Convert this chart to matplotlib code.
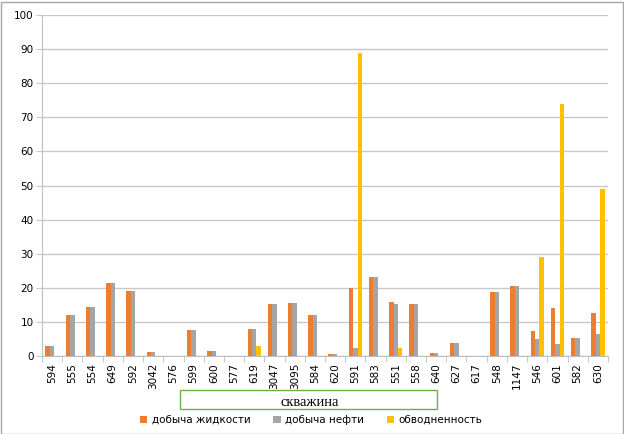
import numpy as np
import matplotlib.pyplot as plt
from matplotlib.patches import Rectangle

wells = ['594', '555', '554', '649', '592', '3042', '576', '599', '600', '577',
         '619', '3047', '3095', '584', '620', '591', '583', '551', '558', '640',
         '627', '617', '548', '1147', '546', '601', '582', '630']
liquid = [3, 12, 14.5, 21.5, 19, 1.2, 0, 7.5, 1.5, 0,
          8, 15.2, 15.5, 12, 0.6, 20, 23.3, 15.8, 15.3, 0.8,
          3.8, 0, 18.8, 20.5, 7.3, 14, 5.3, 12.7]
oil = [3, 12, 14.5, 21.5, 19, 1.2, 0, 7.5, 1.5, 0,
       7.8, 15.2, 15.5, 12, 0.6, 2.3, 23.3, 15.2, 15.3, 0.8,
       3.8, 0, 18.8, 20.5, 5, 3.5, 5.3, 6.5]
watercut = [0, 0, 0, 0, 0, 0, 0, 0, 0, 0,
            3, 0, 0, 0, 0, 89, 0, 2.3, 0, 0,
            0, 0, 0, 0, 29, 74, 0, 49]
series_names = ['добыча жидкости', 'добыча нефти', 'обводненность']
colors = ['#ED7D31', '#A5A5A5', '#FFC000']

fig = plt.figure(figsize=(6.24, 4.34), dpi=100)
ax = fig.add_axes([42 / 624, 78 / 434, 566 / 624, 341 / 434])

x = np.arange(len(wells))
w = 0.22
for i, (vals, name, c) in enumerate(zip([liquid, oil, watercut], series_names, colors)):
    ax.bar(x + (i - 1) * w, vals, width=w, color=c, label=name, zorder=3)

ax.set_xlim(-0.5, len(wells) - 0.5)
ax.set_ylim(0, 100)
ax.set_yticks(range(0, 101, 10))
ax.yaxis.grid(True, color='#c8c8c8', linewidth=1, zorder=0)
ax.tick_params(axis='y', length=4, color='#c8c8c8', labelsize=7.5, pad=2)

ax.set_xticks(x)
ax.set_xticklabels(wells, rotation=90, fontsize=7.5)
ax.set_xticks(np.arange(-0.5, len(wells), 1), minor=True)
ax.tick_params(axis='x', which='major', length=0, pad=5)
ax.tick_params(axis='x', which='minor', length=4, color='#bfbfbf')

for s in ['top', 'right']:
    ax.spines[s].set_visible(False)
ax.spines['left'].set_color('#bfbfbf')
ax.spines['bottom'].set_color('#bfbfbf')

# axis title in a green box
fig.patches.append(Rectangle((180 / 624, 1 - 409 / 434), 257 / 624, 19 / 434,
                             transform=fig.transFigure, fill=False,
                             edgecolor='#70AD47', linewidth=1))
fig.text(310 / 624, 1 - 403 / 434, 'скважина', ha='center', va='center',
         family='Liberation Serif', fontsize=10.5)

handles, labels = ax.get_legend_handles_labels()
fig.legend(handles, labels, loc='center', bbox_to_anchor=(311 / 624, 1 - 420 / 434),
           ncol=3, frameon=False, fontsize=7.5, handlelength=0.7, handleheight=0.7,
           handletextpad=0.4, columnspacing=2.2)

# outer chart frame
fig.patches.append(Rectangle((0.5 / 624, 0.5 / 434), 622 / 624, 432 / 434,
                             transform=fig.transFigure, fill=False,
                             edgecolor='#a6a6a6', linewidth=1))

fig.savefig('out.png', dpi=100)
